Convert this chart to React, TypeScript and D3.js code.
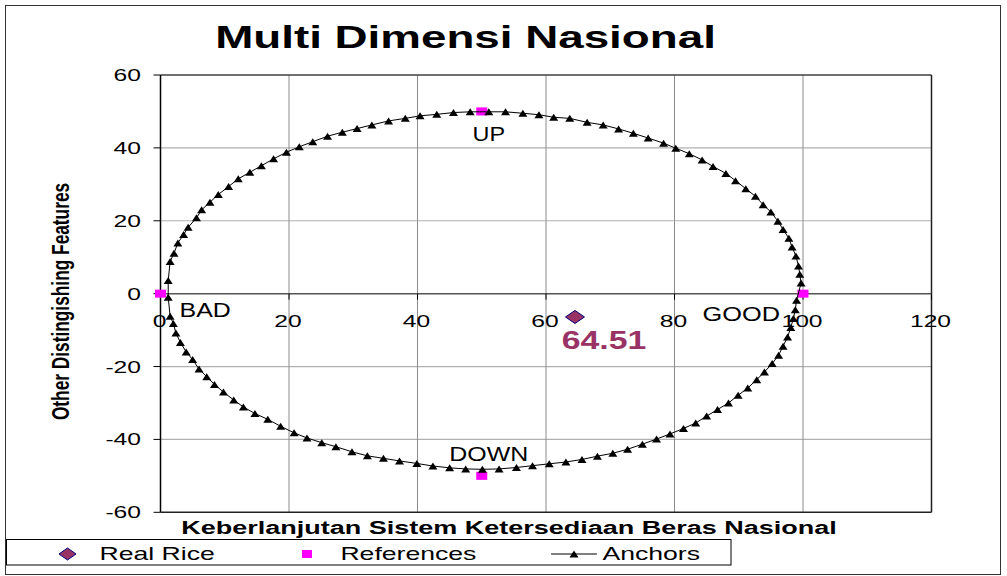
import React from "react";
import * as d3 from "d3";

const FONT = "'Liberation Sans', Arial, Helvetica, sans-serif";

const chartTitle = "Multi Dimensi Nasional";
const xAxisTitle = "Keberlanjutan Sistem Ketersediaan Beras Nasional";
const yAxisTitle = "Other Distingishing Features";

const xTicks = [0, 20, 40, 60, 80, 100, 120];
const yTicks = [60, 40, 20, 0, -20, -40, -60];

const seriesNames = ["Real Rice", "References", "Anchors"];

const realRiceX = [64.51];
const realRiceY = [-6.4];
const realRiceLabel = "64.51";

const referenceX = [0, 50, 100, 50];
const referenceY = [0, 50, 0, -50];
const referenceLabels = ["BAD", "UP", "GOOD", "DOWN"];

const anchorPoints: [number, number][] = [
  [1.2, -1.0], [1.2, 3.6], [1.5, 8.8], [2.1, 11.1], [2.7, 13.9], [3.6, 16.2],
  [4.3, 18.2], [5.6, 20.8], [6.4, 23.0], [7.7, 25.1], [9.0, 27.2], [10.6, 29.4],
  [12.1, 31.5], [13.9, 33.3], [15.7, 35.1], [17.6, 37.0], [19.6, 38.8], [21.6, 40.3],
  [23.7, 41.7], [26.0, 43.2], [28.3, 44.3], [30.6, 45.3], [32.9, 46.3], [35.5, 47.4],
  [38.1, 48.1], [40.4, 48.8], [43.0, 49.2], [45.6, 49.7], [48.2, 49.9], [51.1, 49.9],
  [53.7, 49.9], [56.4, 49.5], [58.9, 49.1], [61.2, 48.4], [63.7, 48.1], [66.4, 47.0],
  [68.9, 46.3], [71.3, 45.2], [73.6, 44.0], [75.9, 42.7], [78.3, 41.3], [80.2, 39.9],
  [82.3, 38.4], [84.3, 36.7], [86.0, 34.9], [88.0, 33.0], [89.5, 31.0], [91.1, 28.8],
  [92.6, 26.7], [93.8, 24.4], [95.0, 22.4], [96.1, 19.9], [96.9, 17.6], [97.8, 15.2],
  [98.3, 12.8], [98.9, 10.3], [99.3, 7.6], [99.5, 5.3], [99.7, 2.9],
  [99.0, -1.8], [98.8, -4.4], [98.5, -6.8], [98.1, -9.3], [97.6, -11.9], [96.9, -14.4],
  [96.2, -16.9], [95.2, -19.2], [94.0, -21.5], [92.8, -23.6], [91.4, -25.9], [89.9, -27.9],
  [88.4, -30.0], [86.7, -31.8], [85.0, -33.6], [83.3, -35.5], [81.4, -37.0], [79.3, -38.5],
  [77.2, -39.9], [75.0, -41.3], [72.7, -42.7], [70.4, -43.8], [68.0, -44.6], [65.6, -45.5],
  [63.1, -46.2], [60.5, -46.7], [57.9, -47.2], [55.4, -47.7], [52.7, -48.1], [50.1, -48.2],
  [47.5, -48.1], [45.0, -47.8], [42.4, -47.3], [39.9, -46.6], [37.2, -45.9], [34.7, -45.2],
  [32.2, -44.5], [29.8, -43.4], [27.3, -42.0], [25.1, -40.9], [22.8, -39.6], [20.8, -38.2],
  [18.7, -36.4], [16.7, -34.5], [14.7, -32.9], [12.9, -31.1], [11.4, -29.2], [9.8, -27.0],
  [8.4, -24.9], [7.2, -22.8], [6.0, -20.7], [5.0, -18.1], [4.0, -16.0], [3.1, -13.4],
  [2.4, -10.8], [2.0, -8.2], [1.5, -6.2],
];

const W = 1007;
const H = 576;

type TProps = {
  x: number; y: number; size: number; sx: number;
  anchor?: "start" | "middle" | "end"; bold?: boolean; fill?: string; rotate?: number;
  children: React.ReactNode;
};
function T({ x, y, size, sx, anchor = "start", bold = false, fill = "#000", rotate = 0, children }: TProps) {
  const tr = `translate(${x},${y}) scale(${sx},1)` + (rotate ? ` rotate(${rotate})` : "");
  return (
    <text transform={tr} fontSize={size} fontWeight={bold ? "bold" : "normal"} textAnchor={anchor} fill={fill} fontFamily={FONT}>
      {children}
    </text>
  );
}

const tri = (cx: number, cy: number, w: number, h: number) =>
  `M${cx},${cy - h / 2}L${cx + w / 2},${cy + h / 2}L${cx - w / 2},${cy + h / 2}Z`;
const diamond = (cx: number, cy: number, w: number, h: number) =>
  `M${cx},${cy - h / 2}L${cx + w / 2},${cy}L${cx},${cy + h / 2}L${cx - w / 2},${cy}Z`;

export default function App() {
  const x = d3.scaleLinear().domain([0, 120]).range([160.5, 931.5]);
  const y = d3.scaleLinear().domain([-60, 60]).range([512.3, 75]);
  const x0 = x(0), x1 = x(120), yTop = y(60), yBot = y(-60), yZero = y(0);

  const closed = [...anchorPoints, anchorPoints[0]];
  const linePath = d3.line<[number, number]>().x((d) => x(d[0])).y((d) => y(d[1]))(closed) || "";

  const labelPos = [
    { dx: 19, dy: 23, anchor: "start" as const, sx: 1.28 },
    { dx: 7, dy: 30, anchor: "middle" as const, sx: 1.2 },
    { dx: -23, dy: 27, anchor: "end" as const, sx: 1.3 },
    { dx: 7, dy: -15, anchor: "middle" as const, sx: 1.28 },
  ];

  return (
    <svg width={W} height={H} style={{ position: "absolute", left: 0, top: 0, background: "#fff" }}>
      <rect x={0} y={0} width={W} height={H} fill="#fff" />
      {/* outer chart border */}
      <rect x={5.5} y={5.5} width={995} height={569} fill="none" stroke="#333" strokeWidth={1} />

      {/* title */}
      <T x={465.5} y={48} size={32} sx={1.43} anchor="middle" bold>{chartTitle}</T>

      {/* gridlines */}
      {yTicks.filter((t) => t !== 60 && t !== -60 && t !== 0).map((t) => (
        <line key={"gy" + t} x1={x0} x2={x1} y1={y(t)} y2={y(t)} stroke="#b0b0b0" strokeWidth={1.2} />
      ))}
      {xTicks.filter((t) => t !== 0 && t !== 120).map((t) => (
        <line key={"gx" + t} x1={x(t)} x2={x(t)} y1={yTop} y2={yBot} stroke="#8c8c8c" strokeWidth={1} />
      ))}

      {/* plot frame */}
      <line x1={x0} x2={x1} y1={yTop} y2={yTop} stroke="#404040" strokeWidth={1.5} />
      <line x1={x1} x2={x1} y1={yTop} y2={yBot} stroke="#202020" strokeWidth={1.5} />
      <line x1={x0} x2={x1} y1={yBot} y2={yBot} stroke="#202020" strokeWidth={1.5} />

      {/* y axis */}
      <line x1={x0} x2={x0} y1={yTop} y2={yBot} stroke="#000" strokeWidth={1.5} />
      {yTicks.map((t) => (
        <g key={"yt" + t}>
          <line x1={x0 - 7} x2={x0} y1={y(t)} y2={y(t)} stroke="#000" strokeWidth={1} />
          <T x={141} y={y(t) + 6} size={17} sx={1.45} anchor="end">{String(t)}</T>
        </g>
      ))}

      {/* x axis at y=0 */}
      <line x1={x0} x2={x1} y1={yZero} y2={yZero} stroke="#555" strokeWidth={1.5} />
      {xTicks.map((t) => (
        <g key={"xt" + t}>
          <line x1={x(t)} x2={x(t)} y1={yZero} y2={yZero + 6} stroke="#000" strokeWidth={1} />
          <T x={x(t) - 1} y={327} size={17} sx={1.45} anchor="middle">{String(t)}</T>
        </g>
      ))}

      {/* axis titles */}
      <T x={509} y={534} size={18.5} sx={1.46} anchor="middle" bold>{xAxisTitle}</T>
      <T x={69} y={301.5} size={17.3} sx={1.4} anchor="middle" bold rotate={-90}>{yAxisTitle}</T>

      {/* references */}
      {referenceX.map((rx, i) => (
        <rect key={"ref" + i} x={x(rx) - 5.5} y={y(referenceY[i]) - 4} width={11} height={8} fill="#ff00ff" />
      ))}

      {/* anchors */}
      <path d={linePath} fill="none" stroke="#000" strokeWidth={1} />
      {anchorPoints.map((p, i) => (
        <path key={"a" + i} d={tri(x(p[0]), y(p[1]), 9, 7)} fill="#000" />
      ))}

      {/* reference labels */}
      {referenceLabels.map((lab, i) => (
        <T key={"rl" + i} x={x(referenceX[i]) + labelPos[i].dx} y={y(referenceY[i]) + labelPos[i].dy}
          size={19.5} sx={labelPos[i].sx} anchor={labelPos[i].anchor}>{lab}</T>
      ))}

      {/* real rice */}
      {realRiceX.map((rx, i) => (
        <g key={"rr" + i}>
          <path d={diamond(x(rx), y(realRiceY[i]), 19, 13)} fill="#993366" stroke="#000080" strokeWidth={1} />
          <T x={x(rx) - 13.3} y={y(realRiceY[i]) + 32} size={26} sx={1.3} bold fill="#993366">{realRiceLabel}</T>
        </g>
      ))}

      {/* legend */}
      <rect x={6.5} y={539.5} width={724.5} height={25.5} fill="#fff" stroke="#000" strokeWidth={1} />
      <path d={diamond(67.5, 554, 17, 12)} fill="#993366" stroke="#000080" strokeWidth={1} />
      <T x={99.5} y={560} size={18.6} sx={1.43}>{seriesNames[0]}</T>
      <rect x={302} y={550} width={10} height={8} fill="#ff00ff" />
      <T x={340.4} y={560} size={18.6} sx={1.43}>{seriesNames[1]}</T>
      <line x1={551} x2={597} y1={554} y2={554} stroke="#555" strokeWidth={1.5} />
      <path d={tri(574, 554, 9, 7)} fill="#000" />
      <T x={602.4} y={560} size={18.6} sx={1.43}>{seriesNames[2]}</T>
    </svg>
  );
}
